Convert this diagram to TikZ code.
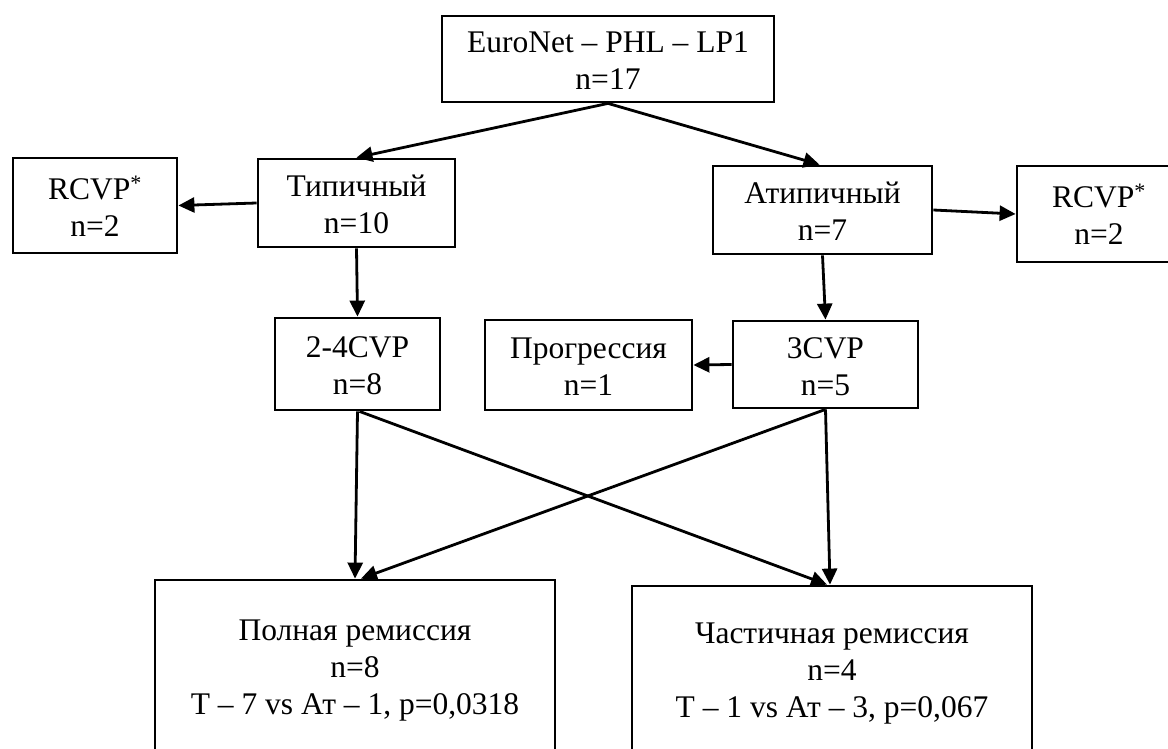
\documentclass[tikz,border=0pt]{standalone}
\usepackage{fontspec}
\setmainfont{Liberation Serif}
\usetikzlibrary{arrows.meta}
\newcommand\boxtxt[1]{\raisebox{-5pt}[\height][\depth]{\begin{tabular}{@{}c@{}}#1\end{tabular}}}
\begin{document}
\begin{tikzpicture}[x=1pt,y=-1pt,
  box/.style={draw, line width=2.8pt, inner sep=0pt,
    font=\fontsize{31.5}{37}\selectfont},
  arr/.style={line width=2.8pt, -{Triangle[length=16pt,width=15pt]}}]
\useasboundingbox (0,0) rectangle (1168,749);
\clip (0,0) rectangle (1168,749);
\fill[white] (0,0) rectangle (1168,749);

\node[box, minimum width=332pt, minimum height=86pt] (top) at (608,59) {\boxtxt{EuroNet – PHL – LP1\\n=17}};
\node[box, minimum width=197pt, minimum height=88pt] (typ) at (356.5,203) {\boxtxt{Типичный\\n=10}};
\node[box, minimum width=164pt, minimum height=95pt] (rcvpL) at (95,205.5) {\boxtxt{RCVP\textsuperscript{*}\\n=2}};
\node[box, minimum width=219pt, minimum height=88pt] (atyp) at (822.5,210) {\boxtxt{Атипичный\\n=7}};
\node[box, minimum width=164pt, minimum height=96pt] (rcvpR) at (1099,214) {\boxtxt{RCVP\textsuperscript{*}\\n=2}};
\node[box, minimum width=165pt, minimum height=92pt] (cvp24) at (357.5,364) {\boxtxt{2-4CVP\\n=8}};
\node[box, minimum width=207pt, minimum height=90pt] (prog) at (588.5,365) {\boxtxt{Прогрессия\\n=1}};
\node[box, minimum width=185pt, minimum height=87pt] (cvp3) at (825.5,364.5) {\boxtxt{3CVP\\n=5}};
\node[box, minimum width=400pt, minimum height=170pt] (full) at (355,665) {\boxtxt{Полная ремиссия\\n=8\\T – 7 vs Ат – 1, p=0,0318}};
\node[box, minimum width=400pt, minimum height=164pt] (part) at (832,668) {\boxtxt{Частичная ремиссия\\n=4\\T – 1 vs Ат – 3, p=0,067}};

\draw[arr] (top.south) -- (typ.north);
\draw[arr] (top.south) -- ([xshift=-3pt]atyp.north);
\draw[arr] (typ.west) -- (rcvpL.east);
\draw[arr] (atyp.east) -- (rcvpR.west);
\draw[arr] (typ.south) -- (cvp24.north);
\draw[arr] (atyp.south) -- (cvp3.north);
\draw[arr] (cvp3.west) -- (prog.east);
\draw[arr] (cvp24.south) -- (full.north);
\draw[arr] ([xshift=2pt]cvp24.south) -- ([xshift=-5pt]part.north);
\draw[arr] (cvp3.south) -- ([xshift=6pt]full.north);
\draw[arr] (cvp3.south) -- ([xshift=-2pt]part.north);
\end{tikzpicture}
\end{document}
